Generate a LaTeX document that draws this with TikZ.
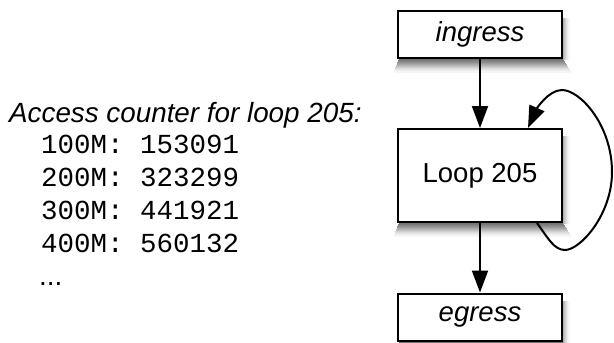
\documentclass[tikz,border=0pt]{standalone}
\usepackage{fontspec}
\setmainfont{Liberation Sans}
\setmonofont{Liberation Mono}
\usetikzlibrary{arrows.meta}

% drop shadow under a box whose outline runs from y=#1 to y=#2,
% built from grey strokes that fade with the distance from the box
\newcommand\boxdropshade[2]{%
  \foreach \k/\lvl in {1/55,2/52,3/48,4/44,5/39,6/34,7/29,8/24,9/19,10/14,11/10,12/7,13/4}{
    \draw[black!\lvl, line width=1.1pt, line cap=butt]
      (399-\k*0.4,#2+\k) -- (563+\k*0.6,#2+\k);
  }
  \foreach \k/\lvl in {1/30,2/24,3/18,4/12,5/8,6/4}{
    \draw[black!\lvl, line width=1.1pt, line cap=butt]
      (563+\k,#1+8) -- (563+\k,#2+1);
  }
}

\begin{document}
\begin{tikzpicture}[x=1pt,y=-1pt,
  box/.style={draw=black, line width=2pt, fill=white, inner sep=0pt,
    minimum width=164pt, font=\fontsize{27.5}{32}\selectfont},
  flow/.style={line width=2pt, -{Triangle[length=22pt,width=16pt]}},
  caption/.style={inner sep=0pt, anchor=base west, font=\fontsize{27.8}{32}\selectfont},
  counter/.style={inner sep=0pt, anchor=base west, font=\ttfamily\fontsize{27.5}{33}\selectfont}
]
\useasboundingbox (0,0) rectangle (614,343);

% shadows first, so the boxes and arrows sit on top of them
\boxdropshade{10}{59}
\boxdropshade{128}{223}
\boxdropshade{293}{342}

% flow boxes
\node[box, minimum height=47pt] (ingress) at (480,34.5) {\itshape ingress};
\node[box, minimum height=93pt] (loop) at (480,175.5) {Loop 205};
\node[box, minimum height=47pt] (egress) at (480,317) {\itshape egress};

% straight edges
\draw[flow] (ingress) -- (loop);
\draw[flow] (loop) -- (egress);

% self edge on the loop
\coordinate (selfout) at ([xshift=-26pt]loop.south east);
\coordinate (selfin) at ([xshift=-35pt]loop.north east);
\draw[flow] (selfout)
  .. controls (548,238) and (554,250) .. (565,250)
  .. controls (580,250) and (612,215) .. (612,172)
  .. controls (612,125) and (580,90) .. (562,90)
  .. controls (548,90) and (536,110) .. (selfin);

% access counter listing
\node[caption] (title) at (9,122) {\itshape Access counter for loop 205:};
\node[counter] (c1) at (41,153) {100M: 153091};
\node[counter] (c2) at (41,186) {200M: 323299};
\node[counter] (c3) at (41,219) {300M: 441921};
\node[counter] (c4) at (41,252) {400M: 560132};
\node[caption] (more) at (39,285) {...};
\end{tikzpicture}
\end{document}
